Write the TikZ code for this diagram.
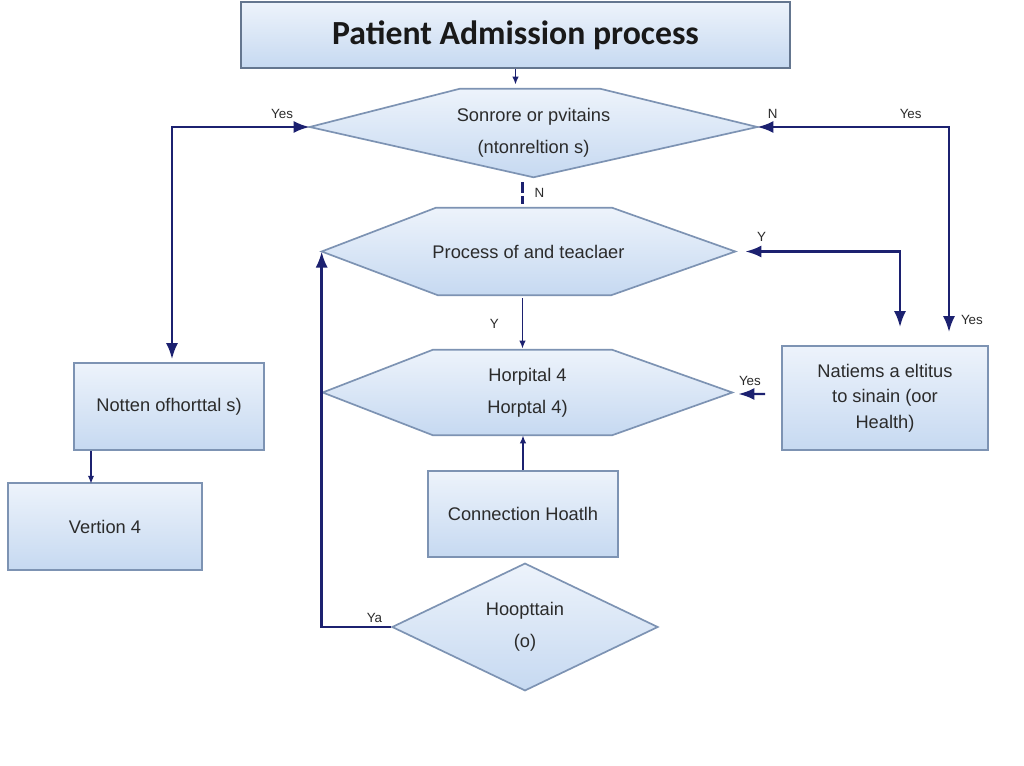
\documentclass[tikz,border=0pt]{standalone}
\usepackage{fontspec}
\setmainfont{Liberation Sans}
\newfontfamily\titlefont{Carlito}
\usetikzlibrary{arrows.meta,shapes.geometric}
\pgfdeclarelayer{background}
\pgfsetlayers{background,main}

\definecolor{edgeblue}{HTML}{7D93B3}
\definecolor{topblue}{HTML}{EDF3FB}
\definecolor{botblue}{HTML}{C6D9F1}
\definecolor{navy}{HTML}{1C2170}
\definecolor{ink}{HTML}{2B2B2B}

\begin{document}
\begin{tikzpicture}[
    x=0.025cm, y=-0.025cm,
    font=\fontsize{13}{15}\selectfont,
    bluefill/.style={draw=edgeblue, line width=1.2pt, top color=topblue, bottom color=botblue},
    box/.style={bluefill, align=center, text=ink},
    hex/.style={align=center, text=ink, inner sep=0pt},
    tag/.style={font=\fontsize{9.5}{11}\selectfont, text=ink, inner sep=2pt},
    link/.style={navy, line width=1.7pt},
    bigarrow/.style={link, {Latex[length=4mm,width=3mm]}-{Latex[length=4mm,width=3mm]}},
    onearrow/.style={link, -{Latex[length=4mm,width=3mm]}},
    smallarrow/.style={link, line width=1.2pt, -{Latex[length=2mm,width=1.6mm]}}
]
\useasboundingbox (0,0) rectangle (1024,766);

% boxes and shapes
\node[box, draw=edgeblue!80!black, line width=1.5pt, minimum width=13.725cm, minimum height=1.65cm,
      font=\titlefont\bfseries\fontsize{24}{28}\selectfont, text=black!90] (title) at (515.5,35) {Patient Admission process};
\node[hex, font=\fontsize{13}{23}\selectfont, minimum width=11.175cm, minimum height=2.2cm] (sent) at (533.5,133) {Sonrore or pvitains\\(ntonreltion s)};
\node[hex, minimum width=10.325cm, minimum height=2.175cm] (proc) at (528.5,251.5) {Process of and teaclaer};
\node[hex, font=\fontsize{13}{23}\selectfont, minimum width=10.225cm, minimum height=2.125cm] (hosp) at (527.5,392.5) {Horpital 4\\Horptal 4)};
\node[box, font=\fontsize{13}{18}\selectfont, minimum width=5.15cm, minimum height=2.6cm] (natn) at (885,398) {Natiems a eltitus\\to sinain (oor\\Health)};
\node[box, minimum width=4.75cm, minimum height=2.175cm] (noth) at (169,406.5) {Notten ofhorttal s)};
\node[box, minimum width=4.85cm, minimum height=2.175cm] (vers) at (105,526.5) {Vertion 4};
\node[box, minimum width=4.75cm, minimum height=2.15cm] (conn) at (523,514) {Connection Hoatlh};
\node[box, shape=diamond, inner sep=0pt, font=\fontsize{13}{23}\selectfont, minimum width=6.65cm, minimum height=3.05cm] (hospd) at (525,627) {Hoopttain\\(o)};

\begin{pgfonlayer}{background}
\fill[white] (0,0) rectangle (1024,766);
\path[bluefill] ([shift={(0,-6)}]sent.west) -- ([shift={(-73.5,0)}]sent.north) -- ([shift={(66.5,0)}]sent.north)
    -- ([shift={(0,-6)}]sent.east) -- (sent.south) -- cycle;
\path[bluefill] (proc.west) -- ([shift={(-92.5,0)}]proc.north) -- ([shift={(83.5,0)}]proc.north)
    -- (proc.east) -- ([shift={(82.5,0)}]proc.south) -- ([shift={(-90.5,0)}]proc.south) -- cycle;
\path[bluefill] (hosp.west) -- ([shift={(-94.5,0)}]hosp.north) -- ([shift={(84.5,0)}]hosp.north)
    -- (hosp.east) -- ([shift={(84.5,0)}]hosp.south) -- ([shift={(-94.5,0)}]hosp.south) -- cycle;
\end{pgfonlayer}

% connectors
\draw[smallarrow, shorten >=1mm] (title.south) -- (title.south |- sent.north);
\draw[link, dash pattern=on 2.6mm off 0.8mm] (sent.south) ++(-11,5) -- ++(0,22) node[tag, right, midway, xshift=2mm] {N};
\draw[smallarrow] ([shift={(-6,3)}]proc.south) -- ([shift={(-5,-1)}]hosp.north) node[tag, left, midway, xshift=-5mm] {Y};
\draw[smallarrow] (conn.north) -- (conn.north |- hosp.south);
\draw[smallarrow] ([shift={(-78,0)}]noth.south) -- ++(0,33);

\draw[bigarrow] ([shift={(3,-3)}]noth.north) |- ([shift={(0,-6)}]sent.west) node[tag, pos=0.9, above=1mm] {Yes};
\draw[bigarrow] ([shift={(0,-6)}]sent.east) -| ([shift={(64,-13)}]natn.north)
    node[tag, pos=0.04, above=1mm] {N} node[tag, pos=0.4, above=1mm] {Yes} node[tag, pos=0.97, right=2mm] {Yes};
\draw[bigarrow, shorten <=2.5mm] (proc.east) -| ([shift={(15,-18)}]natn.north) node[tag, pos=0.08, above=1.5mm] {Y};
\draw[onearrow, shorten <=4mm, shorten >=1.5mm] ([shift={(0,-4)}]natn.west) -- ([shift={(0,1.5)}]hosp.east) node[tag, pos=0.64, above=1mm] {Yes};
\draw[onearrow] (hospd.west) -| (proc.west) node[tag, pos=0.12, above] {Ya};
\end{tikzpicture}
\end{document}
